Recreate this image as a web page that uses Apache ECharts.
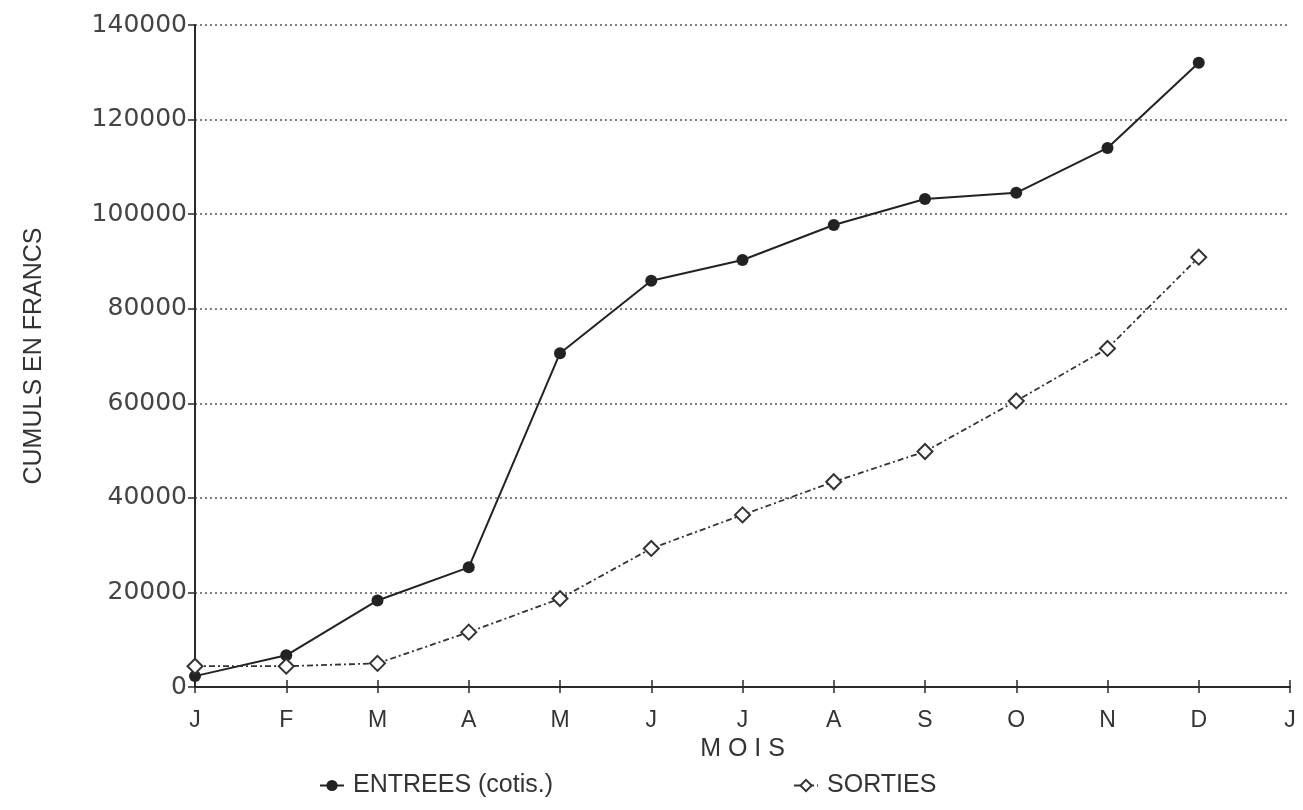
<!DOCTYPE html>
<html>
<head>
<meta charset="utf-8">
<script src="https://cdn.jsdelivr.net/npm/echarts@6/dist/echarts.min.js"></script>
<style>
html,body{margin:0;padding:0;background:#fff;}
#chart{width:1303px;height:810px;}
</style>
</head>
<body>
<div id="chart"></div>
<script>
var months = ['J','F','M','A','M','J','J','A','S','O','N','D','J'];
var entrees = [2300, 6700, 18300, 25300, 70600, 85900, 90300, 97700, 103200, 104500, 114000, 132000];
var sorties = [4400, 4400, 5000, 11600, 18700, 29300, 36400, 43400, 49800, 60500, 71600, 90900];
var yTicks = [0, 20000, 40000, 60000, 80000, 100000, 120000, 140000];

var chart = echarts.init(document.getElementById('chart'));
var ink = '#2a2a2a';
var font = 'Liberation Sans';
chart.setOption({
  backgroundColor: '#fff',
  animation: false,
  grid: {left: 195, right: 13, top: 25, bottom: 123},
  legend: {
    left: 314, top: 768,
    itemGap: 240, itemWidth: 24, itemHeight: 14,
    textStyle: {fontFamily: font, fontSize: 25, color: '#333', padding: [0, 0, 0, 4]},
    data: ['ENTREES (cotis.)', 'SORTIES']
  },
  xAxis: [{
    type: 'category', data: months, boundaryGap: false,
    name: 'M O I S', nameLocation: 'middle', nameGap: 50,
    nameTextStyle: {fontFamily: font, fontSize: 25, color: '#333'},
    axisLine: {lineStyle: {color: ink, width: 2}},
    axisTick: {show: true, length: 6, lineStyle: {color: ink, width: 1.5}},
    axisLabel: {fontFamily: font, fontSize: 23, color: '#333', margin: 22},
    splitLine: {show: false}
  }, {
    type: 'category', data: months, boundaryGap: false, position: 'bottom',
    axisLine: {show: false},
    axisTick: {show: true, inside: true, length: 7, lineStyle: {color: ink, width: 1.5}},
    axisLabel: {show: false}
  }],
  yAxis: {
    type: 'value', min: 0, max: 140000, interval: 20000,
    name: 'CUMULS EN FRANCS', nameLocation: 'middle', nameGap: 148,
    nameTextStyle: {fontFamily: font, fontSize: 25, color: '#333'},
    axisLine: {show: true, lineStyle: {color: ink, width: 2}},
    axisTick: {show: true, length: 7, lineStyle: {color: ink, width: 1.5}},
    axisLabel: {fontFamily: 'DejaVu Sans', fontSize: 25, color: '#444', margin: 8,
      formatter: function(v){ return yTicks.indexOf(v) >= 0 ? String(v) : ''; }},
    splitLine: {show: true, lineStyle: {color: '#555', width: 1.5, type: [2, 3]}}
  },
  series: [{
    name: 'ENTREES (cotis.)', type: 'line', data: entrees,
    symbol: 'circle', symbolSize: 12,
    itemStyle: {color: '#222'},
    lineStyle: {color: '#222', width: 2}
  }, {
    name: 'SORTIES', type: 'line', data: sorties,
    symbol: 'emptyDiamond', symbolSize: 15,
    itemStyle: {color: '#333', borderWidth: 2.5},
    lineStyle: {color: '#333', width: 1.8, type: [6, 3, 2, 3]}
  }]
});
</script>
</body>
</html>
